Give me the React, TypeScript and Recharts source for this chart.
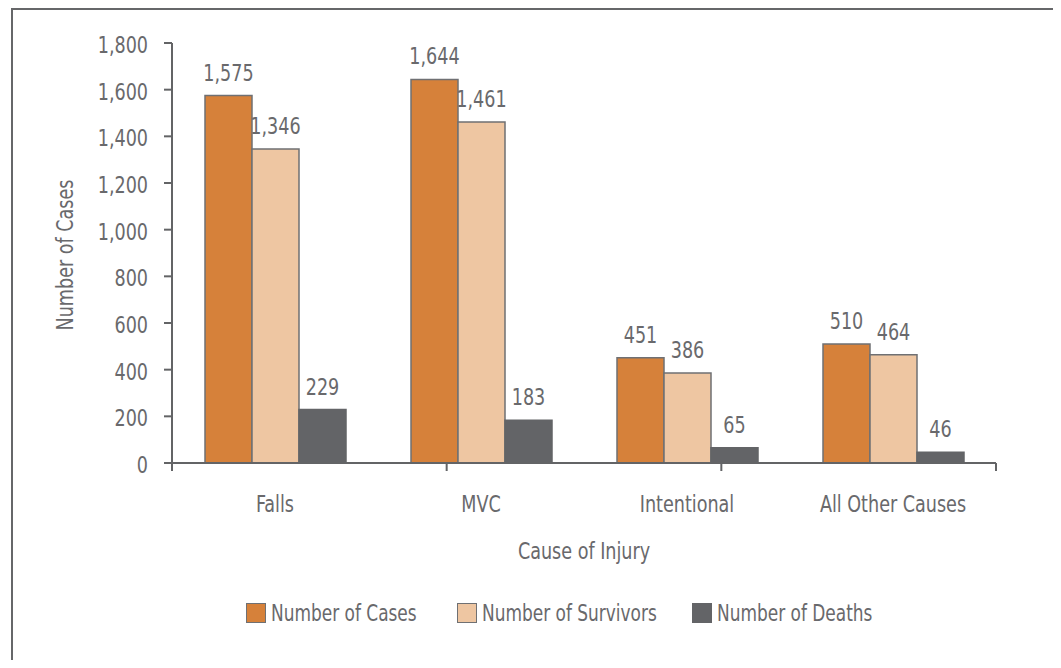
import { Bar, BarChart, LabelList, Legend, XAxis, YAxis } from "recharts";

const categories = ["Falls", "MVC", "Intentional", "All Other Causes"];
const cases = [1575, 1644, 451, 510];
const survivors = [1346, 1461, 386, 464];
const deaths = [229, 183, 65, 46];
const yTicks = [0, 200, 400, 600, 800, 1000, 1200, 1400, 1600, 1800];
const boundaryTicks = [0, 1, 2, 3, 4];

const seriesInfo = [
  { key: "cases", name: "Number of Cases", fill: "#D6813A", stroke: "#6f7073", legendW: 211 },
  { key: "survivors", name: "Number of Survivors", fill: "#EEC6A2", stroke: "#6f7073", legendW: 235 },
  { key: "deaths", name: "Number of Deaths", fill: "#636467", stroke: "#636467", legendW: 200 },
];

const data = categories.map((name, i) => ({
  name,
  cases: cases[i],
  survivors: survivors[i],
  deaths: deaths[i],
}));

const FONT = '"DejaVu Sans Condensed", "DejaVu Sans", sans-serif';
const FS = 23;
const SX = 0.85;
const TEXT = "#69696c";
const AXIS = "#636466";

const fmt = (v: any) => Number(v).toLocaleString("en-US");

// condensed-looking text: squeeze horizontally around the anchor point
function Narrow({ x, y, anchor = "middle", angle = 0, children }: any) {
  return (
    <text
      transform={`translate(${x},${y}) rotate(${angle}) scale(${SX},1)`}
      textAnchor={anchor}
      fill={TEXT}
      fontSize={FS}
      fontFamily={FONT}
    >
      {children}
    </text>
  );
}

function LegendBox() {
  return (
    <div style={{ display: "flex", alignItems: "center", height: 24, fontFamily: FONT, fontSize: FS, color: TEXT }}>
      {seriesInfo.map((s) => (
        <div key={s.key} style={{ display: "flex", alignItems: "center", width: s.legendW }}>
          <span
            style={{
              display: "inline-block",
              width: 18,
              height: 18,
              background: s.fill,
              border: `1px solid ${s.stroke}`,
              marginRight: 5,
              flexShrink: 0,
            }}
          />
          <span
            style={{
              display: "inline-block",
              whiteSpace: "nowrap",
              lineHeight: "24px",
              transform: "scaleX(0.82)",
              transformOrigin: "left center",
            }}
          >
            {s.name}
          </span>
        </div>
      ))}
    </div>
  );
}

export default function App() {
  return (
    <div style={{ width: 1053, height: 652, overflow: "hidden" }}>
      <div style={{ marginLeft: 3, width: 1100, height: 700, border: "2px solid #666769", background: "#fff" }}>
        <BarChart
          width={1040}
          height={640}
          data={data}
          margin={{ top: 33, right: 57, left: 39, bottom: 25 }}
          barCategoryGap={33}
          barGap={0}
        >
          {/* category boundaries, tick marks only */}
          <XAxis
            xAxisId={0}
            type="number"
            domain={[0, 4]}
            ticks={boundaryTicks}
            interval={0}
            tick={() => <g />}
            height={8}
            tickSize={8}
            axisLine={{ stroke: AXIS, strokeWidth: 2 }}
            tickLine={{ stroke: AXIS, strokeWidth: 2 }}
          />
          <XAxis
            xAxisId={1}
            dataKey="name"
            height={130}
            axisLine={false}
            tickLine={false}
            tickSize={0}
            tickMargin={0}
            tick={(p: any) => (
              <Narrow x={p.x} y={p.y + 41}>
                {p.payload.value}
              </Narrow>
            )}
            label={(p: any) => {
              const vb = p.viewBox;
              return (
                <Narrow x={vb.x + vb.width / 2} y={vb.y + 88}>
                  Cause of Injury
                </Narrow>
              );
            }}
          />
          <YAxis
            width={120}
            domain={[0, 1800]}
            ticks={yTicks}
            interval={0}
            tickSize={8}
            tickMargin={16}
            tick={(p: any) => (
              <Narrow x={p.x} y={p.y + 10} anchor="end">
                {fmt(p.payload.value)}
              </Narrow>
            )}
            axisLine={{ stroke: AXIS, strokeWidth: 2 }}
            tickLine={{ stroke: AXIS, strokeWidth: 2 }}
            label={(p: any) => {
              const vb = p.viewBox;
              return (
                <Narrow x={vb.x + 21} y={vb.y + vb.height / 2 + 2} angle={-90}>
                  Number of Cases
                </Narrow>
              );
            }}
          />
          <Legend
            verticalAlign="bottom"
            align="left"
            wrapperStyle={{ left: 233 }}
            content={() => <LegendBox />}
          />
          {seriesInfo.map((s) => (
            <Bar
              key={s.key}
              xAxisId={1}
              dataKey={s.key}
              name={s.name}
              fill={s.fill}
              stroke={s.stroke}
              strokeWidth={1.5}
              isAnimationActive={false}
            >
              <LabelList
                dataKey={s.key}
                content={(p: any) => (
                  <Narrow x={Number(p.x) + Number(p.width) / 2} y={Number(p.y) - 15}>
                    {fmt(p.value)}
                  </Narrow>
                )}
              />
            </Bar>
          ))}
        </BarChart>
      </div>
    </div>
  );
}
